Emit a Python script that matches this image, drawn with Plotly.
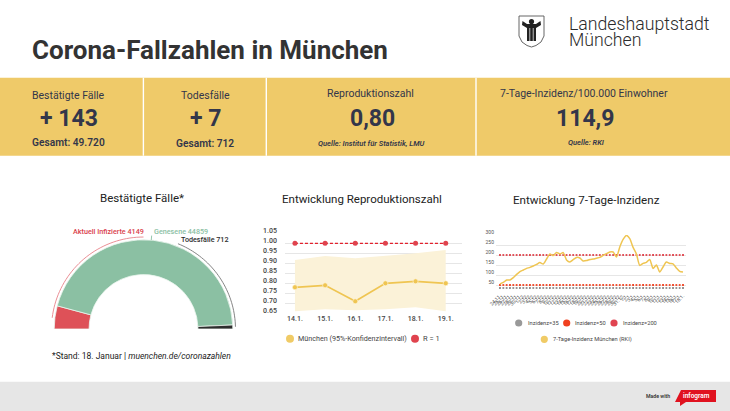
import numpy as np
import plotly.graph_objects as go

W, H = 730, 411

# Gauge
gauge_labels = ["Aktuell Infizierte", "Genesene", "Todesfälle"]
gauge_values = [4149, 44859, 712]

# Reproduktionszahl
r_days = ["14.1.", "15.1.", "16.1.", "17.1.", "18.1.", "19.1."]
r_values = [0.78, 0.79, 0.71, 0.80, 0.81, 0.80]
r_upper = [0.917, 0.937, 0.925, 0.937, 0.95, 0.967]
r_lower = [0.66, 0.67, 0.665, 0.67, 0.68, 0.66]
r_one = [1, 1, 1, 1, 1, 1]
r_ticks = [0.65, 0.70, 0.75, 0.80, 0.85, 0.90, 0.95, 1.00, 1.05]

# 7-Tage-Inzidenz
inz_days = ["24.11.", "25.11.", "26.11.", "27.11.", "28.11.", "29.11.", "30.11.",
            "1.12.", "2.12.", "3.12.", "4.12.", "5.12.", "6.12.", "7.12.",
            "8.12.", "9.12.", "10.12.", "11.12.", "12.12.", "13.12.", "14.12.",
            "15.12.", "16.12.", "17.12.", "18.12.", "19.12.", "20.12.", "21.12.",
            "22.12.", "23.12.", "24.12.", "25.12.", "26.12.", "27.12.", "28.12.",
            "29.12.", "30.12.", "31.12.", "1.1.", "2.1.", "3.1.", "4.1.",
            "5.1.", "6.1.", "7.1.", "8.1.", "9.1.", "10.1.", "11.1.",
            "12.1.", "13.1.", "14.1.", "15.1.", "16.1.", "17.1.", "18.1."]
inz_values = [55, 63, 75, 75, 87, 103, 117, 125, 133, 138, 145, 153, 162, 155,
              180, 205, 197, 213, 205, 212, 175, 165, 177, 188, 185, 170, 172, 178,
              180, 184, 188, 198, 207, 215, 215, 190, 240, 278, 298, 282, 238, 205,
              148, 158, 163, 178, 133, 150, 115, 140, 165, 158, 156, 135, 118, 114.9]
inz_35 = [35] * len(inz_days)
inz_50 = [50] * len(inz_days)
inz_200 = [200] * len(inz_days)
inz_ticks = [50, 100, 150, 200, 250, 300]

YELLOW = "#EFCA69"
INK = "#33364A"
DARK = "#2B2B2B"
LINE_YELLOW = "#EFC552"


def px(x):
    return x / W


def py(y):
    return 1 - y / H


def text(x, y, s, size, color=DARK, anchor="center", weight=400, family="Roboto"):
    return dict(x=px(x), y=py(y), xref="paper", yref="paper", text=s, showarrow=False,
                xanchor=anchor, yanchor="middle", borderpad=0, borderwidth=0,
                font=dict(family=family, size=size, color=color, weight=weight))


def rect(x0, y0, x1, y1, color, layer="below"):
    return dict(type="rect", xref="paper", yref="paper", x0=px(x0), x1=px(x1), y0=py(y0), y1=py(y1),
                fillcolor=color, line_width=0, layer=layer)


def dot(x, y, r, color):
    return dict(type="circle", xref="paper", yref="paper", x0=px(x - r), x1=px(x + r), y0=py(y - r), y1=py(y + r),
                fillcolor=color, line_width=0)


def poly(points, fill, line_color=None, line_width=0):
    d = "M " + " L ".join(f"{px(a):.5f} {py(b):.5f}" for a, b in points) + " Z"
    return dict(type="path", xref="paper", yref="paper", path=d, fillcolor=fill,
                line=dict(color=line_color or fill, width=line_width))


fig = go.Figure()

# gauge: half ring on a polar subplot
total = sum(gauge_values)
spans = [v / total * 180 for v in gauge_values]
starts = np.cumsum([0] + spans[:-1])
OUTER = 1.0
INNER = 0.61
fig.add_trace(go.Barpolar(
    theta=[s + w / 2 for s, w in zip(starts, spans)], width=spans,
    r=[OUTER - INNER] * 3, base=INNER,
    marker=dict(color=["#DE5158", "#8BC0A3", "#2E2E2E"], line=dict(color="#EAF5EE", width=0.8)),
    hoverinfo="text", text=gauge_labels, showlegend=False,
))
# leader arcs over the ring
arc_red = np.linspace(7, 90, 40)
arc_grey = np.linspace(112, 178.6, 40)
fig.add_trace(go.Scatterpolar(theta=arc_red, r=[1.03] * 40, mode="lines",
                              line=dict(color="#E8828A", width=0.9), showlegend=False, hoverinfo="skip"))
fig.add_trace(go.Scatterpolar(theta=arc_grey, r=[1.03] * 40, mode="lines",
                              line=dict(color="#777777", width=0.9), showlegend=False, hoverinfo="skip"))
fig.add_trace(go.Scatterpolar(theta=[95, 95], r=[1.0, 1.05], mode="lines",
                              line=dict(color="#8BC0A3", width=0.9), showlegend=False, hoverinfo="skip"))

# reproduction number
fig.add_trace(go.Scatter(x=r_days, y=r_lower, mode="lines", line=dict(width=0), xaxis="x", yaxis="y",
                         showlegend=False, hoverinfo="skip"))
fig.add_trace(go.Scatter(x=r_days, y=r_upper, mode="lines", line=dict(width=0), fill="tonexty",
                         fillcolor="#FBF2D8", xaxis="x", yaxis="y", showlegend=False, hoverinfo="skip"))
fig.add_trace(go.Scatter(x=r_days, y=r_one, mode="lines+markers", name="R = 1", xaxis="x", yaxis="y",
                         line=dict(color="#E2202C", width=1.2, dash="3px,2px"),
                         marker=dict(color="#E0434E", size=5), showlegend=False))
fig.add_trace(go.Scatter(x=r_days, y=r_values, mode="lines+markers", name="München", xaxis="x", yaxis="y",
                         line=dict(color=LINE_YELLOW, width=1.8),
                         marker=dict(color=LINE_YELLOW, size=5, line=dict(color="#FFF8E6", width=0.6)),
                         showlegend=False))

# 7-day incidence
for vals, col in [(inz_35, "#8A8A8A"), (inz_50, "#F0401F"), (inz_200, "#E0414A")]:
    fig.add_trace(go.Scatter(x=inz_days, y=vals, mode="markers", xaxis="x2", yaxis="y2", showlegend=False,
                             marker=dict(color=col, size=1.8, symbol="square"), hoverinfo="skip"))
fig.add_trace(go.Scatter(x=inz_days, y=inz_values, mode="lines", xaxis="x2", yaxis="y2", showlegend=False,
                         line=dict(color=LINE_YELLOW, width=1.5, shape="spline", smoothing=0.6)))

annotations = [
    text(32, 50, "Corona-Fallzahlen in München", 26, "#333333", "left", 700),
    text(569, 24, "Landeshauptstadt", 17.7, "#2B2B2B", "left", 300),
    text(569, 40, "München", 17.7, "#2B2B2B", "left", 300),

    text(68.5, 95, "Bestätigte Fälle", 10.5, INK),
    text(68.5, 119, "+ 143", 23, INK, weight=700),
    text(68.5, 142, "Gesamt: 49.720", 10.2, INK, weight=600),
    text(205, 95, "Todesfälle", 10.5, INK),
    text(205, 119, "+ 7", 23, INK, weight=700),
    text(205, 143, "Gesamt: 712", 10.2, INK, weight=600),
    text(370, 94, "Reproduktionszahl", 10.5, INK),
    text(372, 119, "0,80", 23, INK, weight=700),
    text(371, 143, "<i>Quelle: Institut für Statistik, LMU</i>", 7.5, INK, weight=600),
    text(584, 94, "7-Tage-Inzidenz/100.000 Einwohner", 10.5, INK),
    text(585, 119, "114,9", 23, INK, weight=700),
    text(586, 142, "<i>Quelle: RKI</i>", 7.5, INK, weight=600),

    text(142, 198, "Bestätigte Fälle*", 11.5, "#222222"),
    text(362, 199, "Entwicklung Reproduktionszahl", 11.5, "#222222"),
    text(586, 200, "Entwicklung 7-Tage-Inzidenz", 11.6, "#222222"),

    text(143.5, 231, f"{gauge_labels[0]} {gauge_values[0]}", 7.2, "#D9414C", "right", 500),
    text(154, 231, f"{gauge_labels[1]} {gauge_values[1]}", 7.2, "#8BC0A3", "left", 500),
    text(180.5, 240, f"{gauge_labels[2]} {gauge_values[2]}", 7.2, "#2B2B2B", "left", 500),
    text(141.5, 355.5, "*Stand: 18. Januar | <i>muenchen.de/coronazahlen</i>", 8.5, "#222222"),

    text(298, 338.5, "München (95%-Konfidenzintervall)", 7.2, "#444444", "left"),
    text(422.5, 338.5, "R = 1", 7.5, "#444444", "left"),
    text(527.5, 323, "Inzidenz=35", 5.7, "#444444", "left"),
    text(575, 323, "Inzidenz=50", 5.7, "#444444", "left"),
    text(623, 323, "Inzidenz=200", 5.7, "#444444", "left"),
    text(553, 339.5, "7-Tage-Inzidenz München (RKI)", 5.7, "#444444", "left"),

    text(670, 396, "Made with", 5.2, "#333333", "right", 600),
    text(696, 396, "infogram", 6.5, "#FFFFFF", "center", 600),
]

shapes = [
    rect(0, 77.7, W, 155.7, YELLOW),
    rect(142.7, 77.7, 144.1, 155.7, "#FFFFFF"),
    rect(265.6, 77.7, 267, 155.7, "#FFFFFF"),
    rect(475.3, 77.7, 476.7, 155.7, "#FFFFFF"),
    rect(0, 381.7, W, H, "#E6E6E6"),
    # infogram badge
    poly([(681, 390), (716, 390), (716, 402), (686, 402), (680, 406), (680, 402), (675, 402)], "#E0121F"),
    # city crest
    poly([(519, 16), (544, 16), (544, 36), (541, 42), (536, 45.5), (531.5, 47), (527, 45.5), (522, 42), (519, 36)],
         "#FFFFFF", "#555555", 0.9),
    poly([(522.5, 21), (527, 24), (536, 24), (540.5, 21), (541, 25), (536, 28), (536, 41), (527, 41), (527, 28), (522, 25)],
         "#222222"),
    dot(531.5, 21.5, 2.6, "#222222"),
    rect(529.5, 28, 530.2, 41, "#FFFFFF", "above"),
    rect(532.8, 28, 533.5, 41, "#FFFFFF", "above"),
    # legend dots
    dot(290, 338.7, 4, "#F0CB66"),
    dot(415, 338.7, 4, "#E0434E"),
    dot(518.7, 323, 3.6, "#999999"),
    dot(566.7, 323, 3.6, "#F0401F"),
    dot(614, 323, 3.6, "#E04450"),
    dot(544.3, 339.3, 3.6, "#F0CB66"),
]

grid = "#E6E6E6"
fig.update_layout(
    width=W, height=H,
    margin=dict(l=0, r=0, t=0, b=0, pad=0, autoexpand=False),
    paper_bgcolor="#FFFFFF", plot_bgcolor="#FFFFFF",
    font=dict(family="Roboto"),
    showlegend=False,
    annotations=annotations,
    shapes=shapes,
    polar=dict(
        domain=dict(x=[px(143.5 - 94.66), px(143.5 + 94.66)], y=[py(329), py(329 - 94.66)]),
        sector=[0, 180],
        bgcolor="rgba(0,0,0,0)",
        angularaxis=dict(visible=False, direction="clockwise", rotation=180),
        radialaxis=dict(visible=False, range=[0, 1.06]),
    ),
    xaxis=dict(domain=[px(285), px(462)], range=[-0.33, 5.54], type="category", showgrid=False, zeroline=False,
               tickmode="linear", tick0=0, dtick=1, ticks="", anchor="y", tickfont=dict(size=7, color="#444444", weight=500)),
    yaxis=dict(domain=[py(313.3), py(233.3)], range=[0.65, 1.05], tickvals=r_ticks, tickformat=".2f",
               showgrid=True, gridcolor=grid, gridwidth=1, zeroline=False, ticks="", ticklabelstandoff=7,
               ticklabelshift=-3, anchor="x", tickfont=dict(size=7, color="#444444", weight=500)),
    xaxis2=dict(domain=[px(496), px(686)], range=[-1.2, 55.9], type="category", showgrid=False, zeroline=False,
                tickmode="linear", tick0=0, dtick=1, ticks="", tickangle=-45, anchor="y2",
                tickfont=dict(size=5, color="#555555")),
    yaxis2=dict(domain=[py(291), py(235)], range=[20, 300], tickvals=inz_ticks,
                showgrid=True, gridcolor=grid, gridwidth=1, zeroline=False, ticks="", ticklabelstandoff=1,
                ticklabelshift=-3, anchor="x2", tickfont=dict(size=5, color="#555555")),
)

fig.write_html("out.html", config={"displayModeBar": False},
               post_script="document.body.style.margin='0';document.body.style.overflow='hidden';")
